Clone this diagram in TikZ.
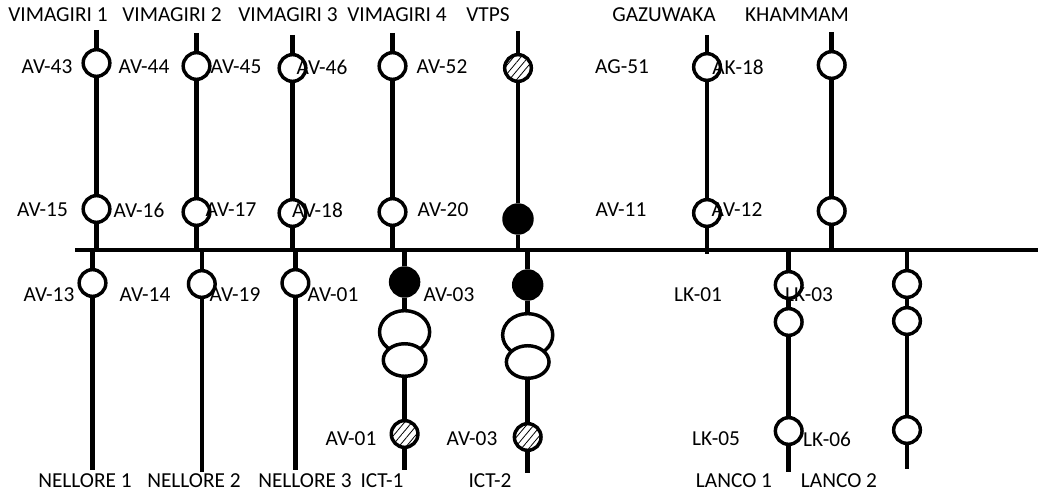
\documentclass[tikz,border=0pt]{standalone}
\usepackage{fontspec}
\setmainfont{Carlito}
\usepackage{tikz}
\usetikzlibrary{shapes, patterns.meta, positioning}
\tikzset{
    brk/.style={
        circle,
        draw=black,
        line width=2.6pt,
        fill=white,
        inner sep=0pt,
        minimum size=20pt,
    },
    closedbrk/.style={
        brk,
        fill=black,
        minimum size=21pt,
    },
    hatchbrk/.style={
        brk,
        postaction={pattern={Lines[angle=50,distance=4.2pt,line width=0.6pt]}},
    },
    winding/.style={
        ellipse,
        draw=black,
        line width=2.6pt,
        inner sep=0pt,
        minimum width=37.6pt,
        minimum height=32pt,
    },
    lowwinding/.style={
        winding,
        fill=white,
        minimum width=32pt,
        minimum height=24.4pt,
    },
    feeder/.style={line width=3.4pt},
    thinfeeder/.style={line width=2.8pt},
    bus/.style={line width=3pt},
    lbl/.style={inner sep=0pt, font=\fontsize{16}{18}\selectfont},
}
\begin{document}
\begin{tikzpicture}[x=0.75pt,y=-0.75pt]
      \useasboundingbox (0,0) rectangle (1038,495);

      % bus
      \coordinate (busL) at (75,250.5);
      \coordinate (busR) at (1038,250.5);

      % feeders above the bus
      \coordinate (V1top) at (96.5,30);
      \node [brk] (V1a) at (96.5,63) {};
      \node [brk] (V1b) at (96.5,209) {};
      \coordinate (V1bus) at (96.5,250);

      \coordinate (V2top) at (196.5,33);
      \node [brk] (V2a) at (196.5,66) {};
      \node [brk] (V2b) at (196.5,212) {};
      \coordinate (V2bus) at (196.5,250);

      \coordinate (V3top) at (292.5,35);
      \node [brk] (V3a) at (292.5,68) {};
      \node [brk] (V3b) at (292.5,213) {};
      \coordinate (V3bus) at (292.5,250);

      \coordinate (V4top) at (392.5,33);
      \node [brk] (V4a) at (392.5,66) {};
      \node [brk] (V4b) at (392.5,212) {};
      \coordinate (V4bus) at (392.5,250);

      \coordinate (VTtop) at (518,31);
      \node [hatchbrk] (VTa) at (518,68) {};
      \node [closedbrk] (VTb) at (518,219) {};
      \coordinate (VTbus) at (518,250);

      \coordinate (GZtop) at (707,35);
      \node [brk] (GZa) at (707,67) {};
      \node [brk] (GZb) at (707,213) {};
      \coordinate (GZbus) at (707,254);

      \coordinate (KHtop) at (831.7,32);
      \node [brk] (KHa) at (831.7,65) {};
      \node [brk] (KHb) at (831.7,211) {};
      \coordinate (KHbus) at (831.7,250);

      % feeders below the bus
      \coordinate (N1bus) at (92.5,251);
      \node [brk] (N1a) at (92.5,283) {};
      \coordinate (N1end) at (92.5,470);

      \coordinate (N2bus) at (201.8,251);
      \node [brk] (N2a) at (201.8,284) {};
      \coordinate (N2end) at (201.8,472);

      \coordinate (N3bus) at (295.4,251);
      \node [brk] (N3a) at (295.4,283) {};
      \coordinate (N3end) at (295.4,470);

      \coordinate (T1bus) at (404.6,251);
      \node [closedbrk] (T1a) at (404.6,282) {};
      \node [winding] (T1hi) at (404.6,332) {};
      \node [lowwinding] (T1lo) at (404.6,360) {};
      \node [hatchbrk] (T1b) at (404.6,434) {};
      \coordinate (T1end) at (404.6,470);

      \coordinate (T2bus) at (527.7,251);
      \node [closedbrk] (T2a) at (527.7,285) {};
      \node [winding] (T2hi) at (527.7,335) {};
      \node [lowwinding] (T2lo) at (527.7,362) {};
      \node [hatchbrk] (T2b) at (527.7,437) {};
      \coordinate (T2end) at (527.7,473);

      \coordinate (L1bus) at (788.7,251);
      \node [brk] (L1a) at (788.7,285) {};
      \node [brk] (L1b) at (788.7,322) {};
      \node [brk] (L1c) at (788.7,431) {};
      \coordinate (L1end) at (788.7,472);

      \coordinate (L2bus) at (907,251);
      \node [brk] (L2a) at (907,284) {};
      \node [brk] (L2b) at (907,321) {};
      \node [brk] (L2c) at (907,430) {};
      \coordinate (L2end) at (907,469);

      \draw [bus] (busL) -- (busR);

      \draw [feeder] (V1top) -- (V1a) -- (V1b) -- (V1bus);
      \draw [feeder] (V2top) -- (V2a) -- (V2b) -- (V2bus);
      \draw [feeder] (V3top) -- (V3a) -- (V3b) -- (V3bus);
      \draw [feeder] (V4top) -- (V4a) -- (V4b) -- (V4bus);
      \draw [feeder] (VTtop) -- (VTa) -- (VTb) -- (VTbus);
      \draw [thinfeeder] (GZtop) -- (GZa) -- (GZb) -- (GZbus);
      \draw [feeder] (KHtop) -- (KHa) -- (KHb) -- (KHbus);

      \draw [feeder] (N1bus) -- (N1a) -- (N1end);
      \draw [feeder] (N2bus) -- (N2a) -- (N2end);
      \draw [feeder] (N3bus) -- (N3a) -- (N3end);
      \draw [feeder] (T1bus) -- (T1a) -- (T1hi);
      \draw [feeder] (T1lo) -- (T1b) -- (T1end);
      \draw [feeder] (T2bus) -- (T2a) -- (T2hi);
      \draw [feeder] (T2lo) -- (T2b) -- (T2end);
      \draw [feeder] (L1bus) -- (L1a) -- (L1b) -- (L1c) -- (L1end);
      \draw [thinfeeder] (L2bus) -- (L2a) -- (L2b) -- (L2c) -- (L2end);

      % line names
      \node [lbl] (nV1) at (58,15) {VIMAGIRI 1};
      \node [lbl] (nV2) at (172,15) {VIMAGIRI 2};
      \node [lbl] (nV3) at (288,15) {VIMAGIRI 3};
      \node [lbl] (nV4) at (397,15) {VIMAGIRI 4};
      \node [lbl] (nVT) at (488,15) {VTPS};
      \node [lbl] (nGZ) at (664,15) {GAZUWAKA};
      \node [lbl] (nKH) at (797,15) {KHAMMAM};
      \node [lbl] (nN1) at (85,481) {NELLORE 1};
      \node [lbl] (nN2) at (194,481) {NELLORE 2};
      \node [lbl] (nN3) at (305,481) {NELLORE 3};
      \node [lbl] (nT1) at (382,481) {ICT-1};
      \node [lbl] (nT2) at (490,481) {ICT-2};
      \node [lbl] (nL1) at (734,481) {LANCO 1};
      \node [lbl] (nL2) at (839,481) {LANCO 2};

      % breaker numbers
      \node [lbl] (b43) at (47,67) {AV-43};
      \node [lbl] (b44) at (144,67) {AV-44};
      \node [lbl] (b45) at (236,67) {AV-45};
      \node [lbl] (b46) at (322,67) {AV-46};
      \node [lbl] (b52) at (442,67) {AV-52};
      \node [lbl] (bG51) at (622,67) {AG-51};
      \node [lbl] (bK18) at (738,67) {AK-18};

      \node [lbl] (b15) at (42.5,210) {AV-15};
      \node [lbl] (b16) at (139,210) {AV-16};
      \node [lbl] (b17) at (231,210) {AV-17};
      \node [lbl] (b18) at (317.5,210) {AV-18};
      \node [lbl] (b20) at (443,210) {AV-20};
      \node [lbl] (b11) at (621,210) {AV-11};
      \node [lbl] (b12) at (737,210) {AV-12};

      \node [lbl] (b13) at (49,295) {AV-13};
      \node [lbl] (b14) at (145,295) {AV-14};
      \node [lbl] (b19) at (235,295) {AV-19};
      \node [lbl] (b01) at (333,295) {AV-01};
      \node [lbl] (b03) at (449,295) {AV-03};
      \node [lbl] (bL01) at (698,295) {LK-01};
      \node [lbl] (bL03) at (809,295) {LK-03};

      \node [lbl] (b01x) at (351,439) {AV-01};
      \node [lbl] (b03x) at (472,439) {AV-03};
      \node [lbl] (bL05) at (716,439) {LK-05};
      \node [lbl] (bL06) at (827,439) {LK-06};
\end{tikzpicture}
\end{document}
